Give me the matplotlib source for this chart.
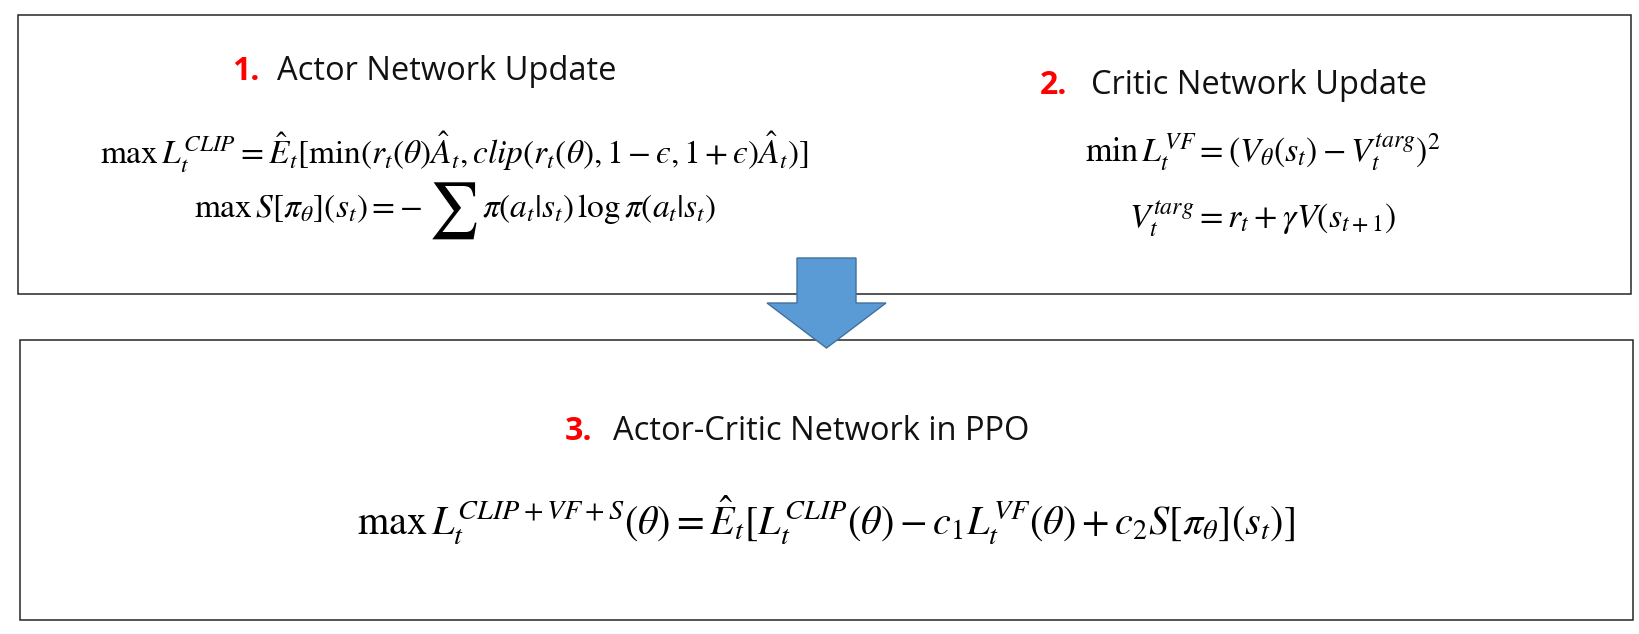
import matplotlib.pyplot as plt
from matplotlib.patches import Rectangle, Polygon

plt.rcParams['mathtext.fontset'] = 'stix'

# headings: (number, title)
headings = [('1.', 'Actor Network Update'),
            ('2.', 'Critic Network Update'),
            ('3.', 'Actor-Critic Network in PPO')]

clip_eq = r'$\max\,L_t^{CLIP} = \hat{E}_t[\min(r_t(\theta)\hat{A}_t, clip(r_t(\theta), 1-ϵ, 1+ϵ)\hat{A}_t)]$'
# entropy term split in three so the sum sign can be drawn large
entropy_parts = [r'$\max\,S[\pi_\theta](s_t) = -$', r'$\sum$', r'$\pi(a_t|s_t)\,\log\pi(a_t|s_t)$']
critic_eqs = [r'$\min\,L_t^{VF} = (V_\theta(s_t) - V_t^{targ})^2$',
              r'$V_t^{targ} = r_t + \gamma V(s_{t+1})$']
ppo_eq = r'$\max\,L_t^{CLIP+VF+S}(\theta) = \hat{E}_t[L_t^{CLIP}(\theta) - c_1L_t^{VF}(\theta) + c_2S[\pi_\theta](s_t)]$'

W, H = 1640, 634
fig = plt.figure(figsize=(W/100, H/100), dpi=100)
ax = fig.add_axes([0, 0, 1, 1])
ax.set_xlim(0, W)
ax.set_ylim(H, 0)
ax.axis('off')

# boxes
ax.add_patch(Rectangle((18, 15), 1613, 279, fill=False, ec='#262626', lw=1.1))
ax.add_patch(Rectangle((20, 340), 1613, 280, fill=False, ec='#262626', lw=1.1))

# arrow
cx = 826.5
arrow = [(797, 258), (856, 258), (856, 303), (886, 303), (cx, 348),
         (767, 303), (797, 303)]
ax.add_patch(Polygon(arrow, closed=True, fc='#5B9BD5', ec='#41719C', lw=1.0, zorder=3))

# headings
head_pos = [(232, 277, 72), (1040, 1091, 86), (565, 613, 431)]
for (num, title), (xn, xt, y) in zip(headings, head_pos):
    ax.text(xn, y, num, color='#FF0000', fontsize=23, fontweight='bold',
            family='Open Sans', ha='left', va='center')
    ax.text(xt, y, title, color='#111111', fontsize=23.5,
            family='Open Sans', ha='left', va='center')

# equations
ax.text(454, 152, clip_eq, fontsize=24, ha='center', va='center')
ax.text(1263, 152, critic_eqs[0], fontsize=24.5, ha='center', va='center')
ax.text(1263, 219, critic_eqs[1], fontsize=24.5, ha='center', va='center')
ax.text(826, 520, ppo_eq, fontsize=29, ha='center', va='center')

# entropy line: measure pieces, then lay them out centred
r = fig.canvas.get_renderer()
sizes = [24, 40, 24]
gaps = [6, 4]
texts = [ax.text(0, 0, s, fontsize=fs, ha='left', va='baseline') for s, fs in zip(entropy_parts, sizes)]
widths = [t.get_window_extent(r).width for t in texts]
total = sum(widths) + sum(gaps)
x = 455 - total / 2
base = 217
for i, t in enumerate(texts):
    t.set_position((x, base + (8 if i == 1 else 0)))
    x += widths[i] + (gaps[i] if i < len(gaps) else 0)

fig.savefig('out.png', dpi=100)
